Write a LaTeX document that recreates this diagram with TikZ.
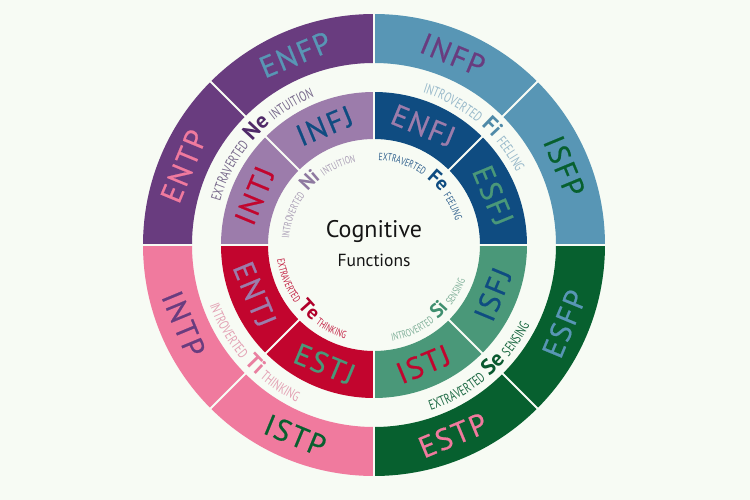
\documentclass[tikz,border=0pt]{standalone}
\usepackage{fontspec}
\setmainfont{PT Sans}
\newfontfamily\condfont[FakeStretch=0.72]{PT Sans}
\newfontfamily\typefont[LetterSpace=6, FakeBold=0.6]{PT Sans}
\usetikzlibrary{decorations.text}

\definecolor{CFPurple}{HTML}{693C7F}
\definecolor{CFLilac}{HTML}{9C7CAB}
\definecolor{CFSteel}{HTML}{5896B5}
\definecolor{CFNavy}{HTML}{0F4C81}
\definecolor{CFPink}{HTML}{F07A9E}
\definecolor{CFRed}{HTML}{C2052E}
\definecolor{CFJade}{HTML}{4A9879}
\definecolor{CFForest}{HTML}{07602F}
\definecolor{CFPaper}{HTML}{F7FBF4}
\definecolor{CFInk}{HTML}{151515}
% small words of the function labels
\definecolor{NeWord}{HTML}{76678A}
\definecolor{NiWord}{HTML}{A99DB5}
\definecolor{FiWord}{HTML}{98B9CA}
\definecolor{FeWord}{HTML}{2D5E8C}
\definecolor{TiWord}{HTML}{E3A1B4}
\definecolor{TeWord}{HTML}{C21C40}
\definecolor{SiWord}{HTML}{7DAE97}
\definecolor{SeWord}{HTML}{1D6A44}
\definecolor{NeAbbr}{HTML}{4F2A68}
\definecolor{NiAbbr}{HTML}{8E79A0}
\definecolor{FiAbbr}{HTML}{4F8AA8}
\definecolor{FeAbbr}{HTML}{0F4C81}
\definecolor{TiAbbr}{HTML}{E97FA0}
\definecolor{TeAbbr}{HTML}{B0002A}
\definecolor{SiAbbr}{HTML}{3F8F6F}
\definecolor{SeAbbr}{HTML}{0A5A30}

\tikzset{
cftype/.style={font=\typefont\fontsize{30}{30}\selectfont, inner sep=0pt,
  text height=21pt, text depth=0pt, anchor=center},
cfcentre/.style={text=CFInk, inner sep=0pt, anchor=base},
cfgap/.style={draw=CFPaper, line width=2pt}
}

\def\wordfont{\condfont\fontsize{14}{14}\selectfont}
\def\abbrfont{\bfseries\fontsize{22}{22}\selectfont}

% ring piece: colour, from angle, to angle, inner radius, outer radius
\newcommand{\ringsector}[5]{%
  \fill[#1] (#2:#4pt) arc[start angle=#2, end angle=#3, radius=#4pt]
    -- (#3:#5pt) arc[start angle=#3, end angle=#2, radius=#5pt] -- cycle;}

% curved label: dir (-1 top, 1 bottom), angle, baseline radius,
% word colour, abbreviation colour, word, abbreviation, word,
% half width of the abbreviation plus space (pt)
\newcommand{\funclabel}[9]{%
  \pgfmathsetmacro{\gapang}{#9/#3*180/pi}%
  \path[decorate, decoration={text along path, text align=right, text color=#4,
      text={|\wordfont|#6}}]
    ({#2-(#1)*60}:#3pt) arc[start angle={#2-(#1)*60}, end angle={#2-(#1)*\gapang}, radius=#3pt];
  \path[decorate, decoration={text along path, text align=center, text color=#5,
      text={|\abbrfont|#7}}]
    ({#2-(#1)*30}:#3pt) arc[start angle={#2-(#1)*30}, end angle={#2+(#1)*30}, radius=#3pt];
  \path[decorate, decoration={text along path, text align=left, text color=#4,
      text={|\wordfont|#8}}]
    ({#2+(#1)*\gapang}:#3pt) arc[start angle={#2+(#1)*\gapang}, end angle={#2+(#1)*60}, radius=#3pt];
}

\begin{document}
\begin{tikzpicture}[x=1pt, y=1pt]
\fill[CFPaper] (-374,-255) rectangle (376,245);
\useasboundingbox (-374,-255) rectangle (376,245);

% the two rings, one quadrant at a time
\foreach \a/\outcol/\incol in {90/CFPurple/CFLilac, 0/CFSteel/CFNavy,
    180/CFPink/CFRed, 270/CFForest/CFJade} {
  \ringsector{\outcol}{\a}{\a+90}{182}{231}
  \ringsector{\incol}{\a}{\a+90}{106}{153}
}
\foreach \a in {0,90,180,270}
  \draw[cfgap] (0,0) -- (\a:235);
\foreach \a in {45,135,225,315} {
  \draw[cfgap] (\a:105) -- (\a:154);
  \draw[cfgap] (\a:181) -- (\a:232);
}

% sixteen types
\foreach \ang/\rot/\rad/\col/\name in {
  157.5/67.5/206/CFPink/ENTP, 112.5/22.5/206/CFSteel/ENFP,
  157.5/67.5/129/CFRed/INTJ, 112.5/22.5/129/CFNavy/INFJ,
  67.5/-22.5/206/CFPurple/INFP, 22.5/-67.5/206/CFForest/ISFP,
  67.5/-22.5/129/CFLilac/ENFJ, 22.5/-67.5/129/CFJade/ESFJ,
  202.5/-67.5/206/CFPurple/INTP, 247.5/-22.5/206/CFForest/ISTP,
  202.5/-67.5/129/CFLilac/ENTJ, 247.5/-22.5/129/CFJade/ESTJ,
  337.5/67.5/206/CFSteel/ESFP, 292.5/22.5/206/CFPink/ESTP,
  337.5/67.5/129/CFNavy/ISFJ, 292.5/22.5/129/CFRed/ISTJ}
  \node[cftype, text=\col, rotate=\rot] (\name) at (\ang:\rad) {\name};

% functions between the rings
\funclabel{-1}{135}{160}{NeWord}{NeAbbr}{EXTRAVERTED}{Ne}{INTUITION}{17.5}
\funclabel{-1}{45}{160}{FiWord}{FiAbbr}{INTROVERTED}{Fi}{FEELING}{13.2}
\funclabel{1}{225}{175}{TiWord}{TiAbbr}{INTROVERTED}{Ti}{THINKING}{13.2}
\funclabel{1}{315}{175}{SeWord}{SeAbbr}{EXTRAVERTED}{Se}{SENSING}{15.8}

% functions inside the inner ring
\def\wordfont{\condfont\fontsize{10.5}{11}\selectfont}
\def\abbrfont{\bfseries\fontsize{20}{20}\selectfont}
\funclabel{-1}{135}{85}{NiWord}{NiAbbr}{INTROVERTED}{Ni}{INTUITION}{13.3}
\funclabel{-1}{45}{85}{FeWord}{FeAbbr}{EXTRAVERTED}{Fe}{FEELING}{14.4}
\funclabel{1}{225}{98}{TeWord}{TeAbbr}{EXTRAVERTED}{Te}{THINKING}{14.4}
\funclabel{1}{315}{98}{SiWord}{SiAbbr}{INTROVERTED}{Si}{SENSING}{11.6}

\node[cfcentre, font=\fontsize{24}{24}\selectfont] (cog) at (0,7) {Cognitive};
\node[cfcentre, font=\fontsize{17.5}{18}\selectfont] (fun) at (0,-22) {Functions};
\end{tikzpicture}
\end{document}
